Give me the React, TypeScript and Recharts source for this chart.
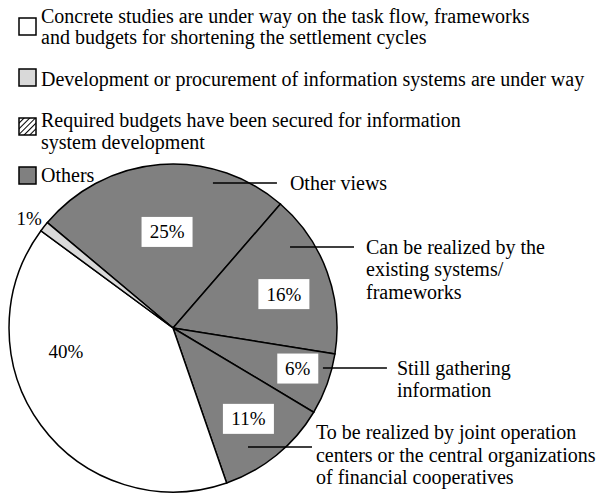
import React from "react";
import { PieChart, Pie, Cell } from "recharts";

// slices, clockwise from the upper-left boundary
const SLICES = [
  "Other views",
  "Can be realized by the existing systems/frameworks",
  "Still gathering information",
  "To be realized by joint operation centers or the central organizations of financial cooperatives",
  "Concrete studies are under way on the task flow, frameworks and budgets for shortening the settlement cycles",
  "Development or procurement of information systems are under way",
];
const VALUES = [25, 16, 6, 11, 40, 1];
const SLICE_FILLS = ["#808080", "#808080", "#808080", "#808080", "#ffffff", "#d9d9d9"];

const CALLOUTS: string[][] = [
  ["Other views"],
  ["Can be realized by the", "existing systems/", "frameworks"],
  ["Still gathering", "information"],
  ["To be realized by joint operation", "centers or the central organizations", "of financial cooperatives"],
  [],
  [],
];

const LEGEND_LINES: string[][] = [
  ["Concrete studies are under way on the task flow, frameworks", "and budgets for shortening the settlement cycles"],
  ["Development or procurement of information systems are under way"],
  ["Required budgets have been secured for information", "system development"],
  ["Others"],
];
const LEGEND_FILLS = ["#ffffff", "#d9d9d9", "url(#hatch)", "#808080"];

// layout only
const FONT = "'Liberation Serif', 'Times New Roman', serif";
const LEGEND_BASELINE = [23, 86, 127, 182];
const LEGEND_LINE_GAP = [21, 0, 22, 0];
const LEGEND_BOX_TOP = [18, 69, 118, 167];
const PCT_POS = [
  { shift: -1, r: 0.587 },
  { shift: -3, r: 0.707 },
  { shift: 2, r: 0.8 },
  { shift: 0.6, r: 0.72 },
  { shift: -23.8, r: 0.669 },
  { shift: 1, r: 1.1 },
];
const CALLOUT_POS = [
  { angle: 74.6, r: 0.917, gap: 13, first: 0 },
  { angle: 34.7, r: 0.868, gap: 12, first: 0 },
  { angle: -14.9, r: 0.946, gap: 10, first: 0 },
  { angle: -57.8, r: 0.858, gap: 4, first: -15 },
];

const RAD = Math.PI / 180;
const data = SLICES.map((name, i) => ({ name, value: VALUES[i] }));

function renderLabel(props: any) {
  const { cx, cy, outerRadius, midAngle, index, value } = props;
  const p = PCT_POS[index];
  const a = (midAngle + p.shift) * RAD;
  const x = cx + outerRadius * p.r * Math.cos(a);
  const y = cy - outerRadius * p.r * Math.sin(a);
  const text = `${value}%`;
  const w = text.length === 3 ? 51 : 41;
  const boxed = SLICE_FILLS[index] === "#808080";
  const c = CALLOUT_POS[index];
  let callout = null;
  if (c) {
    const ax = cx + outerRadius * c.r * Math.cos(c.angle * RAD);
    const ay = cy - outerRadius * c.r * Math.sin(c.angle * RAD);
    callout = (
      <g>
        <line x1={ax} y1={ay} x2={ax + 64} y2={ay} stroke="#000" strokeWidth={1.5} />
        <text x={ax + 64 + c.gap} y={ay + c.first + 7} fontFamily={FONT} fontSize={20} fill="#000">
          {CALLOUTS[index].map((line, k) => (
            <tspan key={k} x={ax + 64 + c.gap} dy={k === 0 ? 0 : 22.5}>
              {line}
            </tspan>
          ))}
        </text>
      </g>
    );
  }
  return (
    <g key={`lab-${index}`}>
      {boxed && <rect x={x - w / 2} y={y - 15} width={w} height={30} fill="#fff" />}
      <text x={x} y={y + 6.5} textAnchor="middle" fontFamily={FONT} fontSize={19} fill="#000">
        {text}
      </text>
      {callout}
    </g>
  );
}

export default function App() {
  return (
    <div style={{ position: "absolute", left: 0, top: 0, width: 598, height: 495, background: "#fff" }}>
      <PieChart width={598} height={495} margin={{ top: 0, right: 0, bottom: 0, left: 0 }}>
        <Pie
          data={data}
          dataKey="value"
          nameKey="name"
          cx={173}
          cy={328}
          outerRadius={164}
          startAngle={140}
          endAngle={-220}
          stroke="#000"
          strokeWidth={1.5}
          label={renderLabel}
          labelLine={false}
          isAnimationActive={false}
        >
          {data.map((d, i) => (
            <Cell key={d.name} fill={SLICE_FILLS[i]} />
          ))}
        </Pie>
      </PieChart>

      {/* legend */}
      <svg width={598} height={200} style={{ position: "absolute", left: 0, top: 0, pointerEvents: "none" }}>
        <defs>
          <pattern id="hatch" width="4" height="4" patternUnits="userSpaceOnUse" patternTransform="rotate(45)">
            <rect width="4" height="4" fill="#fff" />
            <line x1="0" y1="0" x2="0" y2="4" stroke="#000" strokeWidth="2" />
          </pattern>
        </defs>
        {LEGEND_LINES.map((lines, i) => (
          <g key={i}>
            <rect x={19} y={LEGEND_BOX_TOP[i]} width={17} height={17} fill={LEGEND_FILLS[i]} stroke="#000" strokeWidth={1.5} />
            <text x={41} y={LEGEND_BASELINE[i]} fontFamily={FONT} fontSize={20} fill="#000">
              {lines.map((line, k) => (
                <tspan key={k} x={41} dy={k === 0 ? 0 : LEGEND_LINE_GAP[i]}>
                  {line}
                </tspan>
              ))}
            </text>
          </g>
        ))}
      </svg>
    </div>
  );
}
